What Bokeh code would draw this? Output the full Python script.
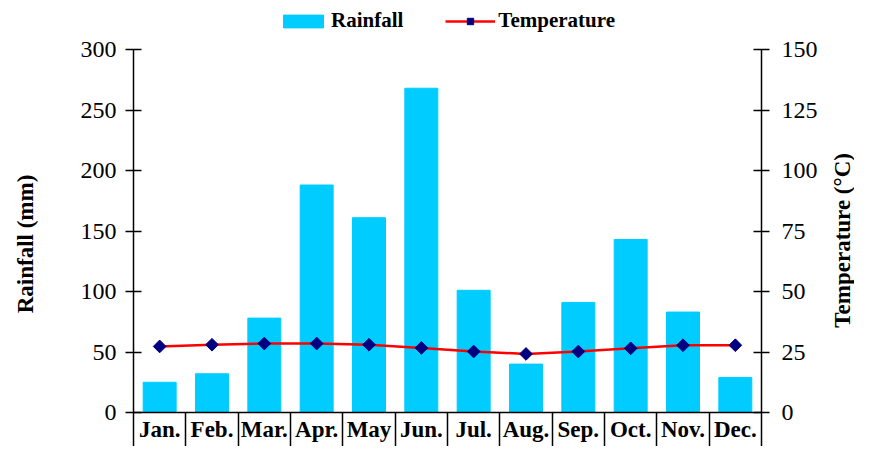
import math
from bokeh.plotting import figure
from bokeh.layouts import row
from bokeh.models import (Range1d, LinearAxis, FixedTicker, Legend,
                          LegendItem, ColumnDataSource, LinearScale, Label)
from bokeh.embed import file_html
from bokeh.resources import INLINE

# ---- data ----
months = ["Jan.", "Feb.", "Mar.", "Apr.", "May", "Jun.",
          "Jul.", "Aug.", "Sep.", "Oct.", "Nov.", "Dec."]
rainfall = [25, 32, 78, 188, 161, 268, 101, 40, 91, 143, 83, 29]
temperature = [27.3, 28.0, 28.5, 28.5, 28.0, 26.7, 25.2, 24.2, 25.2, 26.5, 27.8, 27.8]
rain_ticks = [0, 50, 100, 150, 200, 250, 300]
temp_ticks = [0, 25, 50, 75, 100, 125, 150]
left_title = "Rainfall (mm)"
right_title = "Temperature (°C)"

FONT = "Liberation Serif"

# headroom above the top tick keeps the legend inside the plot frame
HEAD = 1.124
rain_max, temp_max = rain_ticks[-1], temp_ticks[-1]

pos = list(range(1, len(months) + 1))  # month slot index
src = ColumnDataSource(dict(pos=pos, month=months, rain=rainfall, temp=temperature))

H = 446
LW, RW = 45, 30           # side strips that hold the rotated axis titles
MW = 854 - LW - RW

p = figure(width=MW, height=H,
           x_range=Range1d(0.5, len(months) + 0.5),
           y_range=Range1d(0, rain_max * HEAD),
           output_backend="svg", toolbar_location=None,
           x_axis_location=None, y_axis_location=None,
           min_border_left=133 - LW, min_border_right=LW + MW - 761,
           min_border_top=4, min_border_bottom=34)
p.outline_line_color = None
p.background_fill_color = "white"
p.border_fill_color = "white"
p.grid.visible = False

p.extra_y_ranges = {"temp": Range1d(0, temp_max * HEAD)}
p.extra_y_scales = {"temp": LinearScale()}

bars = p.vbar(x="pos", top="rain", width=0.63, source=src,
              fill_color="#00CCFF", line_color="#00CCFF")
line = p.line(x="pos", y="temp", source=src, y_range_name="temp",
              line_color="#FF0000", line_width=2.5)
pts = p.scatter(x="pos", y="temp", source=src, y_range_name="temp",
                marker="square", angle=math.pi / 4, size=9,
                fill_color="#000080", line_color="#000080")

# ---- left / right value axes ----
ly = LinearAxis(ticker=FixedTicker(ticks=rain_ticks), bounds=(0, rain_max))
ry = LinearAxis(y_range_name="temp", ticker=FixedTicker(ticks=temp_ticks),
                bounds=(0, temp_max))
for ax in (ly, ry):
    ax.major_tick_in = 8
    ax.major_tick_out = 8
    ax.minor_tick_line_color = None
    ax.axis_line_color = "black"
    ax.axis_line_width = 1.5
    ax.major_tick_line_color = "black"
    ax.major_tick_line_width = 1.5
    ax.major_label_text_font = FONT
    ax.major_label_text_font_size = "24px"
    ax.major_label_text_color = "black"
ly.major_label_standoff = 9
ry.major_label_standoff = 12
p.add_layout(ly, "left")
p.add_layout(ry, "right")

# ---- bottom axis: month labels at centres, separators at boundaries ----
bounds = [i + 0.5 for i in range(len(months) + 1)]
bx = LinearAxis(ticker=FixedTicker(ticks=pos, minor_ticks=bounds),
                major_label_overrides={c: m for c, m in zip(pos, months)})
bx.major_tick_in = 0
bx.major_tick_out = 0
bx.minor_tick_in = 0
bx.minor_tick_out = 34
bx.minor_tick_line_color = "black"
bx.minor_tick_line_width = 1.5
bx.axis_line_color = "black"
bx.axis_line_width = 1.5
bx.major_label_standoff = -30
bx.major_label_text_font = FONT
bx.major_label_text_font_style = "bold"
bx.major_label_text_font_size = "23px"
bx.major_label_text_color = "black"
p.add_layout(bx, "below")

# ---- legend (in the headroom at the top of the frame) ----
legend = Legend(items=[LegendItem(label="Rainfall", renderers=[bars]),
                       LegendItem(label="Temperature", renderers=[line, pts])],
                orientation="horizontal", location=(145, 379),
                label_text_font=FONT, label_text_font_style="bold",
                label_text_font_size="21px", label_text_color="black",
                glyph_width=50, glyph_height=16, spacing=42, label_standoff=3,
                padding=2, margin=0, border_line_color=None,
                background_fill_alpha=0)
p.add_layout(legend)


# ---- side strips with the axis titles, reading bottom-to-top ----
def title_strip(width, text, x, y):
    s = figure(width=width, height=H, x_range=Range1d(0, 1), y_range=Range1d(0, 1),
               output_backend="svg", toolbar_location=None,
               x_axis_location=None, y_axis_location=None, min_border=0)
    s.outline_line_color = None
    s.grid.visible = False
    s.background_fill_color = "white"
    s.border_fill_color = "white"
    s.add_layout(Label(x=x, y=y, text=text, angle=math.pi / 2,
                       text_align="center", text_baseline="middle",
                       text_font=FONT, text_font_style="bold",
                       text_font_size="23px", text_color="black"))
    return s


left_strip = title_strip(LW, left_title, 0.55, 0.413)
right_strip = title_strip(RW, right_title, 0.6, 0.422)

layout = row(left_strip, p, right_strip)
open("out.html", "w").write(file_html(layout, INLINE))
